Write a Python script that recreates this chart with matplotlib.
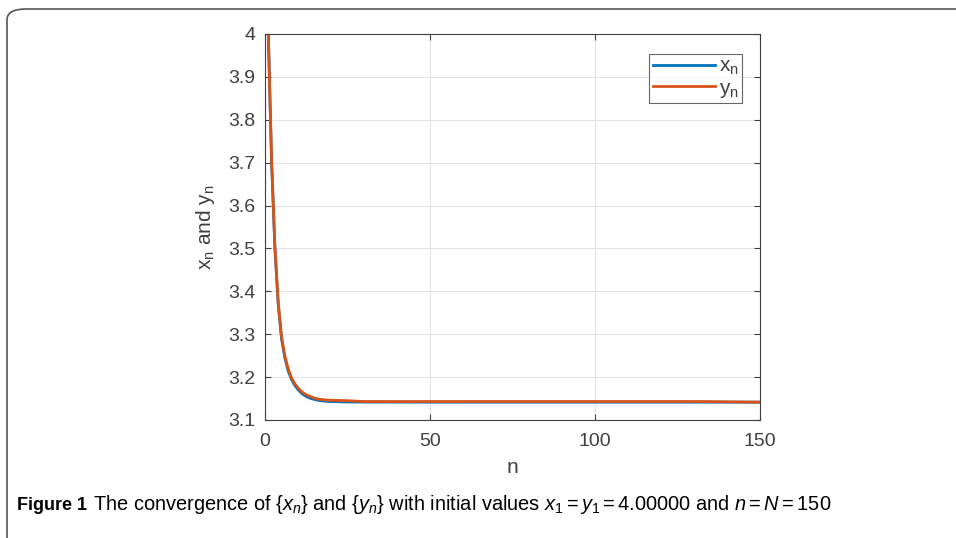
import matplotlib.pyplot as plt
from matplotlib.patches import FancyBboxPatch

plt.rcParams["font.family"] = ["Liberation Sans", "DejaVu Sans"]
plt.rcParams["mathtext.fontset"] = "custom"
plt.rcParams["mathtext.rm"] = "Liberation Sans"
plt.rcParams["mathtext.it"] = "Liberation Sans:italic"

# Sequence values (n, x_n, y_n)
n_vals = [1, 2, 3, 4, 5, 6, 7, 8, 9, 10, 11, 12, 13, 14, 15, 16, 18, 20,
          25, 30, 40, 60, 80, 100, 120, 132, 150]
x_vals = [4.000, 3.700, 3.500, 3.370, 3.290, 3.245, 3.215, 3.195, 3.181,
          3.171, 3.163, 3.157, 3.153, 3.150, 3.148, 3.146, 3.144, 3.143,
          3.142, 3.1418, 3.1417, 3.1416, 3.1416, 3.1416, 3.1416, 3.1416,
          3.1416]
y_vals = [4.000, 3.705, 3.505, 3.375, 3.295, 3.250, 3.220, 3.199, 3.185,
          3.175, 3.167, 3.161, 3.157, 3.154, 3.151, 3.149, 3.147, 3.146,
          3.145, 3.143, 3.143, 3.143, 3.143, 3.143, 3.143, 3.143, 3.1416]

x_ticks = [0, 50, 100, 150]
y_ticks = [3.1, 3.2, 3.3, 3.4, 3.5, 3.6, 3.7, 3.8, 3.9, 4.0]
y_tick_labels = ["3.1", "3.2", "3.3", "3.4", "3.5", "3.6", "3.7", "3.8", "3.9", "4"]

fig = plt.figure(figsize=(9.56, 5.38), dpi=100)

# rounded frame around figure and caption
frame = FancyBboxPatch((7 / 956, -0.05), 1.2, 1 - 9 / 538 + 0.05,
                       boxstyle="round,pad=0,rounding_size=0.02",
                       transform=fig.transFigure, fill=False,
                       edgecolor="#555555", linewidth=1.2)
fig.patches.append(frame)

ax = fig.add_axes([265 / 956, 1 - 420 / 538, (760 - 265) / 956, (420 - 34) / 538])
ax.plot(n_vals, x_vals, color="#0072BD", lw=2, label="$\\mathregular{x_n}$")
ax.plot(n_vals, y_vals, color="#D95319", lw=2, label="$\\mathregular{y_n}$")

ax.set_xlim(0, 150)
ax.set_ylim(3.1, 4.0)
ax.set_xticks(x_ticks)
ax.set_yticks(y_ticks)
ax.set_yticklabels(y_tick_labels)
ax.tick_params(labelsize=14, colors="#404040", direction="in", length=4,
               top=True, right=True)
ax.tick_params(axis="y", pad=7)
ax.tick_params(axis="x", pad=9)
ax.grid(True, color="#e3e3e3", linewidth=0.8)
for s in ax.spines.values():
    s.set_color("#404040")
    s.set_linewidth(0.8)

ax.set_xlabel("n", fontsize=15, color="#404040", labelpad=6)
ax.set_ylabel("$\\mathregular{x_n}$ and $\\mathregular{y_n}$", fontsize=15,
              color="#404040", labelpad=8)

leg = ax.legend(loc="upper right", fontsize=15, handlelength=3.0, borderpad=0.15,
                labelspacing=0.05, handletextpad=0.2, fancybox=False,
                bbox_to_anchor=(0.985, 0.975))
leg.get_frame().set_edgecolor("#404040")
leg.get_frame().set_linewidth(0.8)
for t in leg.get_texts():
    t.set_color("#404040")

fig.text(17 / 956, 1 - 505 / 538, "Figure 1", fontsize=13, fontweight="bold",
         va="center", ha="left")
fig.text(93 / 956, 1 - 505 / 538,
         "The convergence of $\\{x_n\\}$ and $\\{y_n\\}$ with initial values "
         "$x_1 = y_1 = 4.00000$ and $n = N = 150$",
         fontsize=14.4, va="center", ha="left")

fig.savefig("out.png", dpi=100)
